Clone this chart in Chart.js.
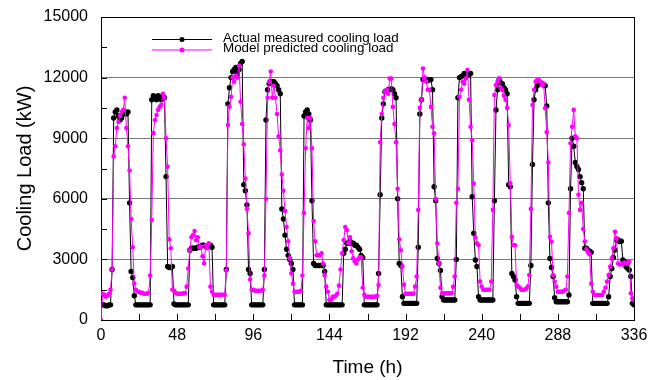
<!DOCTYPE html>
<html><head><meta charset="utf-8">
<script src="https://cdn.jsdelivr.net/npm/chart.js@4/dist/chart.umd.min.js"></script>
<style>html,body{margin:0;padding:0;background:#fff;}#wrap{width:658px;height:380px;}</style>
</head><body><div id="wrap"><canvas id="c" width="658" height="380"></canvas></div>
<script>
// Hourly cooling load (kW), hour index = position in array (0..336)
const actualLoad = [
 750,750,750,700,700,750,750,2500,10000,10300,10400,10100,9900,10000,10200,10300,10200,10300,5800,2400,2100,1200,750,750,
 750,750,750,750,750,750,750,750,10900,11100,11000,10900,11100,11000,10900,11100,11000,7100,2650,2600,2600,2650,800,750,
 750,750,750,750,750,750,750,750,3450,3550,3550,3550,3550,3600,3600,3650,3700,3700,3650,3600,3700,3700,3600,750,
 750,750,750,750,750,750,750,2500,10700,11500,12000,12300,12400,12500,12200,12400,12700,12800,6700,6400,5700,2500,2300,750,
 750,750,750,750,750,750,750,2500,9900,11400,11700,11800,11800,11800,11700,11600,11400,11200,5500,5000,4200,3500,3200,3000,
 2800,2500,750,750,750,750,750,750,10100,10300,10400,10200,9900,5900,2800,2700,2700,2700,2700,2700,2700,2400,750,750,
 750,750,750,750,750,750,750,750,750,3300,3500,3800,3800,3900,3800,3800,3700,3700,3600,3500,3200,3100,750,750,
 750,750,750,750,750,750,750,2300,6200,10000,10700,11300,11350,11400,11400,11450,11400,11200,11000,6000,2800,2700,1150,825,
 825,825,825,825,825,825,825,825,3600,10200,10900,11900,11950,11900,11850,11900,11900,11400,6600,5900,3050,2800,2450,1150,
 990,990,990,990,990,990,990,990,3000,11000,12000,12050,12100,12200,12150,12100,12200,12200,6100,4300,2970,2650,1150,990,
 990,990,990,990,990,990,990,990,5900,10400,11400,11900,11750,11700,11500,11400,11200,6700,6600,2300,2150,1980,1150,825,
 825,825,825,825,825,825,825,2700,7700,10900,11400,11600,11800,11750,11700,11650,11600,10600,5800,3050,2600,2150,1100,900,
 900,900,900,900,900,900,900,1240,6500,9000,8600,7800,7600,7450,7100,6800,6500,3550,3550,3470,3400,3350,825,825,
 825,825,825,825,825,825,825,825,1150,2150,2550,3100,3465,3960,3960,3880,3900,2970,2900,2640,2550,2475,2150,825,750
];
const predictedLoad = [
 0,1300,1250,1150,1200,1300,1500,2500,8100,8600,9500,9800,10100,10300,10400,11000,9500,8600,7400,5000,3600,1800,1500,1400,
 1400,1350,1350,1300,1300,1300,1350,2200,4950,9250,9900,10150,10400,10550,10650,11200,11000,9000,7600,4000,3550,1500,1450,1350,
 1300,1300,1300,1300,1320,1320,1650,2550,3450,4100,4200,4400,3950,4100,3600,3630,3150,2800,3700,3550,3800,1650,1400,1250,
 1250,1250,1250,1250,1250,1250,1250,2450,9650,10560,11050,12000,11800,12100,12000,12600,10800,9700,8700,7000,5500,4300,2000,1500,
 1500,1450,1450,1450,1450,1450,1500,2200,6000,11000,11800,12300,11000,11600,11000,10200,9100,8400,7200,6400,5400,4600,3900,3050,
 2300,1800,1400,1400,1400,1400,1450,2200,5300,8500,10000,9500,10000,8500,4900,3900,3200,3200,3200,3300,2800,2200,1650,1400,
 1000,1000,1150,1150,1200,1300,1700,2500,3300,3960,4600,4450,3800,4100,3400,3050,2900,2800,3000,3100,3100,1600,1250,1150,
 1150,1150,1150,1150,1150,1150,1200,1730,8800,10200,11000,11300,11400,11200,11950,11950,10550,9700,8800,6500,4000,3450,2650,1750,
 1300,1300,1300,1300,1300,1300,1650,2150,5450,10500,10900,12450,12000,11800,11400,11400,10550,9570,9240,6000,3800,2800,1600,1320,
 1320,1320,1320,1320,1320,1320,1650,2150,5800,6500,11050,11400,11800,11700,11950,12375,10900,9570,8900,6750,4100,3800,3700,1900,
 1650,1500,1500,1500,1500,1500,1900,5450,11140,11630,11800,11960,11500,11380,11100,10900,10500,9650,6765,4125,3700,3700,1730,1650,
 1600,1500,1500,1500,1550,1650,2230,5500,10640,11400,11800,11880,11880,11800,11630,11700,10480,9300,7800,4125,3880,2230,1900,1650,
 1400,1400,1400,1400,1450,1500,2150,5300,8750,9570,10400,9100,9000,6200,5450,5800,4500,3900,3500,3350,3250,1800,1400,1240,
 1240,1240,1240,1240,1240,1400,1600,1900,2230,2640,3050,3550,4370,4040,2800,2750,2750,2800,2850,2800,2800,2890,1320,1070,990
];
const seriesNames = ['Actual measured cooling load', 'Model predicted cooling load'];
const xTicks = [0, 48, 96, 144, 192, 240, 288, 336];
const xMinorTicks = [24, 72, 120, 168, 216, 264, 312];
const yTicks = [0, 3000, 6000, 9000, 12000, 15000];
const yMinorTicks = [1500, 4500, 7500, 10500, 13500];

const FONT = "'Liberation Sans', Arial, sans-serif";

const framePlugin = {
  id: 'frame',
  beforeDatasetsDraw(chart) {
    const {ctx, chartArea: a, scales: {x, y}} = chart;
    ctx.save();
    ctx.strokeStyle = '#000';
    ctx.lineWidth = 1;
    ctx.strokeRect(Math.round(a.left) + 0.5, Math.round(a.top) + 0.5, Math.round(a.right - a.left), Math.round(a.bottom - a.top));
    ctx.beginPath();
    xTicks.concat(xMinorTicks).forEach(v => {
      const px = Math.round(x.getPixelForValue(v)) + 0.5;
      ctx.moveTo(px, a.bottom); ctx.lineTo(px, a.bottom - 6);
    });
    yTicks.concat(yMinorTicks).forEach(v => {
      const py = Math.round(y.getPixelForValue(v)) + 0.5;
      ctx.moveTo(a.left, py); ctx.lineTo(a.left + 6, py);
    });
    ctx.stroke();
    ctx.restore();
  }
};

const legendPlugin = {
  id: 'innerLegend',
  afterDraw(chart) {
    const {ctx, chartArea: a} = chart;
    ctx.save();
    chart.data.datasets.forEach((ds, i) => {
      const yy = a.top + 22 + i * 10.5;
      const x0 = a.left + 51, x1 = a.left + 111;
      ctx.strokeStyle = ds.borderColor; ctx.lineWidth = 1;
      ctx.beginPath(); ctx.moveTo(x0, yy + 0.5); ctx.lineTo(x1, yy + 0.5); ctx.stroke();
      ctx.fillStyle = ds.borderColor;
      ctx.beginPath(); ctx.arc((x0 + x1) / 2, yy + 0.5, 2.5, 0, Math.PI * 2); ctx.fill();
      ctx.fillStyle = '#000';
      ctx.font = '13.4px ' + FONT;
      ctx.textBaseline = 'middle';
      ctx.textAlign = 'left';
      ctx.fillText(ds.label, a.left + 122, yy - 1);
    });
    ctx.restore();
  }
};

new Chart(document.getElementById('c'), {
  type: 'line',
  data: {
    datasets: [
      { label: seriesNames[0], data: actualLoad.map((v, i) => ({x: i, y: v})),
        borderColor: '#000000', backgroundColor: '#000000', borderWidth: 1,
        pointRadius: 2.7, pointBorderWidth: 0, pointBackgroundColor: '#000000', tension: 0, order: 2 },
      { label: seriesNames[1], data: predictedLoad.map((v, i) => ({x: i, y: v})),
        borderColor: '#ff00ff', backgroundColor: '#ff00ff', borderWidth: 1,
        pointRadius: 2.3, pointBorderWidth: 0, pointBackgroundColor: '#ff00ff', tension: 0, order: 1 }
    ]
  },
  options: {
    responsive: false, animation: false, devicePixelRatio: 1,
    layout: {padding: {left: 0, right: 24, top: 17, bottom: 0}},
    plugins: {legend: {display: false}, tooltip: {enabled: false}},
    scales: {
      x: {
        type: 'linear', min: 0, max: 336,
        afterBuildTicks: s => { s.ticks = xTicks.map(v => ({value: v})); },
        afterFit: s => { s.height = 60; s.paddingLeft = 0; s.paddingRight = 0; },
        grid: {display: false, drawTicks: false},
        border: {display: false},
        ticks: {font: {family: FONT, size: 16}, color: '#000', padding: 6, maxRotation: 0, autoSkip: false,
          callback: v => String(v)},
        title: {display: true, text: 'Time (h)', color: '#000', font: {family: FONT, size: 19}, padding: {top: 0, bottom: 1}}
      },
      y: {
        min: 0, max: 15000,
        afterBuildTicks: s => { s.ticks = yTicks.map(v => ({value: v})); },
        afterFit: s => { s.width = 101; s.paddingTop = 0; s.paddingBottom = 0; },
        grid: {drawTicks: false, lineWidth: 1,
          color: c => (c.tick && (c.tick.value === 0 || c.tick.value === 15000)) ? 'rgba(0,0,0,0)' : '#7a7a7a'},
        border: {display: false},
        ticks: {font: {family: FONT, size: 16}, color: '#000', padding: 13, callback: v => String(v)},
        title: {display: true, text: 'Cooling Load (kW)', color: '#000', font: {family: FONT, size: 20}, padding: {top: 13, bottom: 0}}
      }
    }
  },
  plugins: [framePlugin, legendPlugin]
});
</script></body></html>
